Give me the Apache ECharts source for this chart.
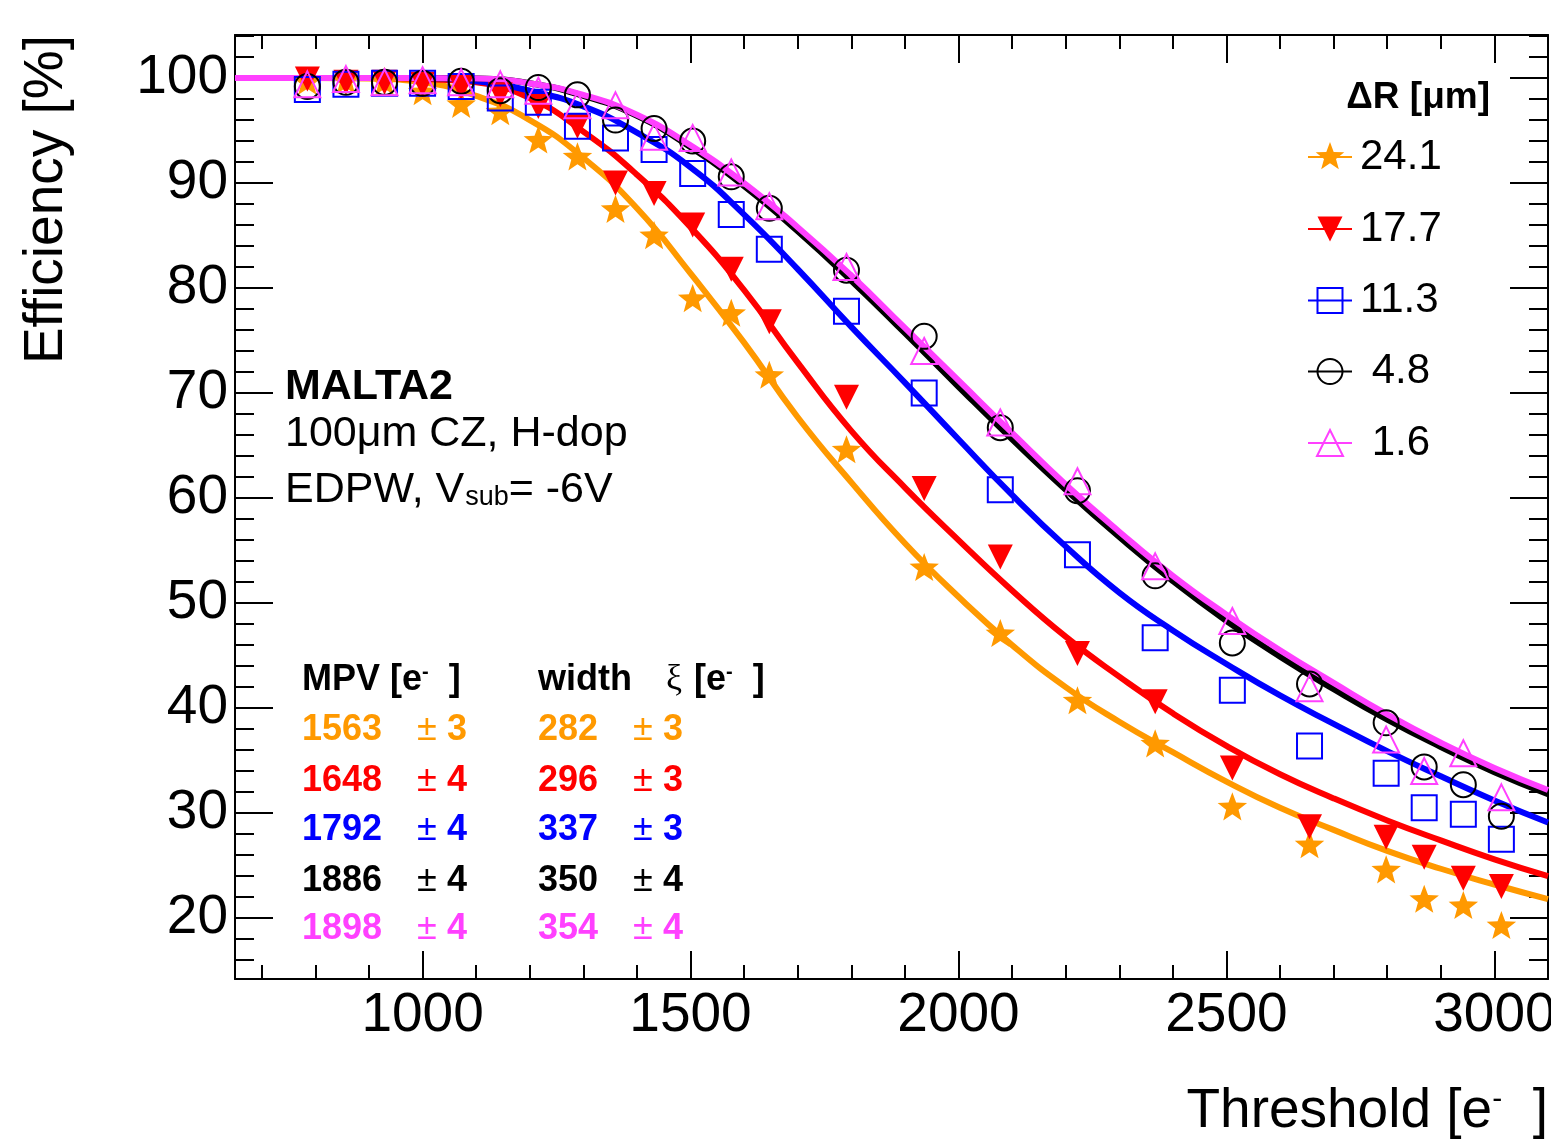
<!DOCTYPE html>
<html>
<head>
<meta charset="utf-8">
<title>MALTA2 efficiency vs threshold</title>
<script src="https://cdn.jsdelivr.net/npm/echarts@6/dist/echarts.min.js"></script>
<style>
  html, body { margin: 0; padding: 0; background: #ffffff; }
  #chart { width: 1551px; height: 1143px; }
</style>
</head>
<body>
<div id="chart"></div>
<script>
// Threshold scan points [e-]
const thresholds = [785, 857, 929, 1000, 1072, 1145, 1216, 1289, 1360, 1432, 1504, 1576, 1647,
                    1791, 1936, 2078, 2222, 2367, 2511, 2655, 2798, 2869, 2942, 3013];

// Measured efficiency [%] per cluster-distance class ΔR
const eff24_1 = [99.6, 99.7, 99.6, 98.6, 97.4, 96.7, 94.0, 92.4, 87.4, 84.9, 78.9, 77.5, 71.6,
                 64.5, 53.3, 47.0, 40.6, 36.5, 30.5, 26.9, 24.5, 21.7, 21.1, 19.2];
const eff17_7 = [99.9, 99.6, 99.6, 99.4, 99.1, 98.4, 97.3, 95.4, 90.0, 89.0, 86.0, 81.8, 76.8,
                 69.6, 60.9, 54.4, 45.2, 40.6, 34.3, 28.7, 27.7, 25.8, 23.8, 23.0];
const eff11_3 = [98.9, 99.4, 99.5, 99.5, 99.2, 98.1, 97.7, 95.4, 94.3, 93.2, 90.9, 87.0, 83.7,
                 77.8, 70.0, 60.8, 54.6, 46.7, 41.7, 36.4, 33.8, 30.5, 29.9, 27.5];
const eff4_8  = [99.2, 99.6, 99.6, 99.5, 99.7, 98.8, 99.1, 98.4, 96.0, 95.2, 94.0, 90.6, 87.6,
                 81.7, 75.4, 66.7, 60.7, 52.6, 46.2, 42.3, 38.6, 34.4, 32.7, 29.7];
const eff1_6  = [99.4, 99.9, 99.6, 99.8, 99.6, 99.4, 98.8, 97.4, 97.4, 94.4, 94.3, 91.0, 87.8,
                 82.0, 74.0, 67.2, 61.6, 53.5, 48.3, 41.9, 37.0, 34.0, 35.7, 31.5];

// Fitted efficiency curves, sampled along the threshold axis
const fitThresholds = [650, 700, 800, 900, 1000, 1100, 1200, 1300, 1400, 1500, 1600, 1700, 1800,
                       1900, 2000, 2100, 2200, 2300, 2400, 2500, 2600, 2700, 2800, 2900, 3000, 3100];
const fit24_1 = [100, 100, 100, 99.95, 99.6, 98.3, 96.0, 92.4, 87.6, 81.4, 74.8, 67.7, 61.5,
                 55.7, 50.6, 46.0, 42.0, 38.7, 35.8, 33.0, 30.5, 28.4, 26.4, 24.7, 23.2, 21.8];
const fit17_7 = [100, 100, 100, 100, 99.9, 99.6, 98.1, 94.9, 90.8, 85.8, 79.8, 72.9, 66.4,
                 61.0, 56.0, 51.2, 46.8, 43.0, 39.5, 36.4, 33.7, 31.4, 29.3, 27.4, 25.6, 24.0];
const fit11_3 = [100, 100, 100, 100, 100, 99.7, 98.8, 97.3, 94.8, 91.5, 87.0, 81.8, 76.3,
                 71.0, 65.6, 60.3, 55.4, 51.0, 47.4, 44.2, 41.2, 38.5, 35.9, 33.5, 31.2, 29.1];
const fit4_8  = [100, 100, 100, 100, 100, 99.95, 99.5, 98.3, 96.4, 93.4, 89.7, 85.4, 80.7,
                 75.7, 70.6, 65.6, 60.8, 56.3, 52.1, 48.3, 44.9, 41.8, 38.9, 36.3, 33.9, 31.8];
const fit1_6  = [100, 100, 100, 100, 100, 99.95, 99.5, 98.4, 96.5, 93.6, 90.0, 85.8, 81.2,
                 76.2, 71.2, 66.2, 61.3, 56.8, 52.6, 48.9, 45.5, 42.4, 39.4, 36.7, 34.3, 32.2];

// Legend values and Landau fit results
const deltaR     = [24.1, 17.7, 11.3, 4.8, 1.6];
const mpv        = [1563, 1648, 1792, 1886, 1898];
const mpvErr     = [3, 4, 4, 4, 4];
const widthXi    = [282, 296, 337, 350, 354];
const widthXiErr = [3, 3, 3, 4, 4];

// Axis ticks
const xMajorTicks = [1000, 1500, 2000, 2500, 3000];
const xMinorTicks = [700, 800, 900, 1100, 1200, 1300, 1400, 1600, 1700, 1800, 1900,
                     2100, 2200, 2300, 2400, 2600, 2700, 2800, 2900];
const yMajorTicks = [20, 30, 40, 50, 60, 70, 80, 90, 100];
const yMinorTicks = [16, 18, 22, 24, 26, 28, 32, 34, 36, 38, 42, 44, 46, 48, 52, 54, 56, 58,
                     62, 64, 66, 68, 72, 74, 76, 78, 82, 84, 86, 88, 92, 94, 96, 98, 102, 104];

const X_MIN = 650, X_MAX = 3100, Y_MIN = 14.2, Y_MAX = 104.1;
const FONT = "'Liberation Sans', Arial, Helvetica, sans-serif";

// Grid placement
const G = { left: 235, top: 35, width: 1313, height: 944 };

// Five-point star, padded so the bounding box is centred on the star centre
function starPts(cx, cy, R, r) {
  const pts = [];
  for (let k = 0; k < 10; k++) {
    const a = (-90 + k * 36) * Math.PI / 180;
    const rad = k % 2 === 0 ? R : r;
    pts.push([cx + rad * Math.cos(a), cy + rad * Math.sin(a)]);
  }
  return pts;
}
const STAR_PATH = 'path://M50,100 M0,50 M100,50 ' +
  starPts(50, 50, 50, 21).map((p, i) => (i ? 'L' : 'M') + p[0].toFixed(2) + ',' + p[1].toFixed(2)).join(' ') + ' Z';

const groups = [
  { eff: eff24_1, fit: fit24_1, color: '#ff9900', symbol: STAR_PATH, size: 31, rotate: 0, filled: true },
  { eff: eff17_7, fit: fit17_7, color: '#ff0000', symbol: 'triangle', size: 25, rotate: 180, filled: true },
  { eff: eff11_3, fit: fit11_3, color: '#0000ff', symbol: 'rect', size: 25, rotate: 0, filled: false },
  { eff: eff4_8,  fit: fit4_8,  color: '#000000', symbol: 'circle', size: 25, rotate: 0, filled: false },
  { eff: eff1_6,  fit: fit1_6,  color: '#ff40ff', symbol: 'triangle', size: 26, rotate: 0, filled: false }
];

const series = [];
groups.forEach(function (g, i) {
  series.push({
    type: 'scatter',
    name: 'points' + i,
    xAxisIndex: 0, yAxisIndex: 0,
    data: thresholds.map(function (x, j) { return [x, g.eff[j]]; }),
    symbol: g.symbol,
    symbolSize: g.size,
    symbolRotate: g.rotate,
    itemStyle: g.filled
      ? { color: g.color, borderWidth: 0, opacity: 1 }
      : { color: 'rgba(0,0,0,0)', borderColor: g.color, borderWidth: 2, opacity: 1 },
    silent: true,
    z: 3
  });
  series.push({
    type: 'line',
    name: 'fit' + i,
    xAxisIndex: 0, yAxisIndex: 0,
    data: fitThresholds.map(function (x, j) { return [x, g.fit[j]]; }),
    smooth: 0.5,
    showSymbol: false,
    symbol: 'none',
    lineStyle: { color: g.color, width: 6 },
    silent: true,
    z: 3
  });
});

const plainNumber = function (v) { return String(v); };

function xAxisDef(position, ticks, len, labels) {
  return {
    type: 'value', min: X_MIN, max: X_MAX, position: position,
    axisLine: { show: labels, onZero: false, lineStyle: { color: '#000', width: 2 } },
    axisTick: { show: true, inside: true, length: len, customValues: ticks,
                lineStyle: { color: '#000', width: 2 } },
    axisLabel: { show: labels && position === 'bottom', customValues: xMajorTicks, formatter: plainNumber,
                 fontSize: 55, color: '#000', fontFamily: FONT, margin: 9 },
    splitLine: { show: false }, minorTick: { show: false }
  };
}
function yAxisDef(position, ticks, len, labels) {
  return {
    type: 'value', min: Y_MIN, max: Y_MAX, position: position,
    axisLine: { show: labels, onZero: false, lineStyle: { color: '#000', width: 2 } },
    axisTick: { show: true, inside: true, length: len, customValues: ticks,
                lineStyle: { color: '#000', width: 2 } },
    axisLabel: { show: labels && position === 'left', customValues: yMajorTicks, formatter: plainNumber,
                 fontSize: 55, color: '#000', fontFamily: FONT, margin: 7 },
    splitLine: { show: false }, minorTick: { show: false }
  };
}

// Legend (ΔR classes) and annotation text
const graphics = [];
const legendX = 1330, legendRowY = [157, 229, 300.5, 371.5, 443];

graphics.push({
  type: 'text', x: 1490, y: 98,
  style: { text: 'ΔR [μm]', fontSize: 37, fontWeight: 'bold', fontFamily: FONT, fill: '#000',
           align: 'right', textAlign: 'right', verticalAlign: 'middle', textVerticalAlign: 'middle' }
});

groups.forEach(function (g, i) {
  const y = legendRowY[i];
  graphics.push({ type: 'line', shape: { x1: 1308, y1: y, x2: 1352, y2: y },
                  style: { stroke: g.color, lineWidth: 2 } });
  let mk;
  if (i === 0) {
    mk = { type: 'polygon', shape: { points: starPts(legendX, y, 15, 6.3) }, style: { fill: g.color } };
  } else if (i === 1) {
    mk = { type: 'polygon', shape: { points: [[legendX - 12.5, y - 12.5], [legendX + 12.5, y - 12.5], [legendX, y + 12.5]] },
           style: { fill: g.color } };
  } else if (i === 2) {
    mk = { type: 'rect', shape: { x: legendX - 12.5, y: y - 12.5, width: 25, height: 25 },
           style: { fill: 'none', stroke: g.color, lineWidth: 2 } };
  } else if (i === 3) {
    mk = { type: 'circle', shape: { cx: legendX, cy: y, r: 12.5 },
           style: { fill: 'none', stroke: g.color, lineWidth: 2 } };
  } else {
    mk = { type: 'polygon', shape: { points: [[legendX, y - 13], [legendX + 13, y + 13], [legendX - 13, y + 13]] },
           style: { fill: 'none', stroke: g.color, lineWidth: 2 } };
  }
  graphics.push(mk);
  graphics.push({
    type: 'text', x: 1360, y: y,
    style: { text: deltaR[i].toFixed(1).padStart(4, ' '), fontSize: 42, fontFamily: FONT, fill: '#000',
             align: 'left', textAlign: 'left', verticalAlign: 'middle', textVerticalAlign: 'middle' }
  });
});

// Detector description
graphics.push({
  type: 'text', x: 285, y: 387,
  style: { text: 'MALTA2', fontSize: 43, fontWeight: 'bold', fontFamily: FONT, fill: '#000',
           align: 'left', textAlign: 'left', verticalAlign: 'middle', textVerticalAlign: 'middle' }
});
graphics.push({
  type: 'text', x: 285, y: 434,
  style: { text: '100μm CZ, H-dop', fontSize: 43, fontFamily: FONT, fill: '#000',
           align: 'left', textAlign: 'left', verticalAlign: 'middle', textVerticalAlign: 'middle' }
});
graphics.push({
  type: 'text', x: 285, y: 490,
  style: { text: 'EDPW, V{sub|sub}= -6V', fontSize: 43, fontFamily: FONT, fill: '#000', lineHeight: 43,
           rich: { sub: { fontSize: 27, fontFamily: FONT, fill: '#000', verticalAlign: 'bottom', lineHeight: 27,
                          padding: [0, 0, 0, 1] } },
           align: 'left', textAlign: 'left', verticalAlign: 'middle', textVerticalAlign: 'middle' }
});

// Fit result table
function tableText(x, y, text, color, weight, rich) {
  const st = { text: text, fontSize: 36, fontWeight: weight, fontFamily: FONT, fill: color, lineHeight: 36,
               align: 'left', textAlign: 'left', verticalAlign: 'middle', textVerticalAlign: 'middle' };
  if (rich) st.rich = rich;
  return { type: 'text', x: x, y: y, style: st };
}
const supRich = { sup: { fontSize: 20, fontWeight: 'bold', fontFamily: FONT, fill: '#000',
                         verticalAlign: 'top', lineHeight: 20 } };
graphics.push(tableText(302, 680, 'MPV [e{sup|-}  ]', '#000', 'bold', supRich));
graphics.push(tableText(538, 680, 'width', '#000', 'bold'));
graphics.push({
  type: 'text', x: 666, y: 680,
  style: { text: 'ξ', fontSize: 36, fontFamily: "'Liberation Serif', 'DejaVu Serif', serif", fill: '#000',
           align: 'left', textAlign: 'left', verticalAlign: 'middle', textVerticalAlign: 'middle' }
});
graphics.push(tableText(694, 680, '[e{sup|-}  ]', '#000', 'bold', supRich));

const tableRowY = [730.5, 781, 830, 881, 929.5];
groups.forEach(function (g, i) {
  const y = tableRowY[i];
  graphics.push(tableText(302, y, String(mpv[i]), g.color, 'bold'));
  graphics.push(tableText(417, y, '±', g.color, 'normal'));
  graphics.push(tableText(447, y, String(mpvErr[i]), g.color, 'bold'));
  graphics.push(tableText(538, y, String(widthXi[i]), g.color, 'bold'));
  graphics.push(tableText(633, y, '±', g.color, 'normal'));
  graphics.push(tableText(663, y, String(widthXiErr[i]), g.color, 'bold'));
});

// Axis titles
graphics.push({
  type: 'text', x: 47, y: 35, rotation: Math.PI / 2,
  style: { text: 'Efficiency [%]', fontSize: 55, fontFamily: FONT, fill: '#000',
           align: 'right', textAlign: 'right', verticalAlign: 'middle', textVerticalAlign: 'middle' }
});
graphics.push({
  type: 'text', x: 1548, y: 1112,
  style: { text: 'Threshold [e{sup|-}  ]', fontSize: 55, fontFamily: FONT, fill: '#000', lineHeight: 55,
           rich: { sup: { fontSize: 30, fontFamily: FONT, fill: '#000', verticalAlign: 'top', lineHeight: 30 } },
           align: 'right', textAlign: 'right', verticalAlign: 'middle', textVerticalAlign: 'middle' }
});

const chart = echarts.init(document.getElementById('chart'), null, { renderer: 'canvas' });
chart.setOption({
  animation: false,
  backgroundColor: '#ffffff',
  grid: { left: G.left, top: G.top, width: G.width, height: G.height,
          containLabel: false, outerBoundsMode: 'none', show: false },
  xAxis: [
    xAxisDef('bottom', xMajorTicks, 28, true),
    xAxisDef('bottom', xMinorTicks, 14, false),
    xAxisDef('top', xMajorTicks, 28, true),
    xAxisDef('top', xMinorTicks, 14, false)
  ],
  yAxis: [
    yAxisDef('left', yMajorTicks, 38, true),
    yAxisDef('left', yMinorTicks, 19, false),
    yAxisDef('right', yMajorTicks, 38, true),
    yAxisDef('right', yMinorTicks, 19, false)
  ],
  series: series,
  graphic: { elements: graphics }
});
</script>
</body>
</html>
